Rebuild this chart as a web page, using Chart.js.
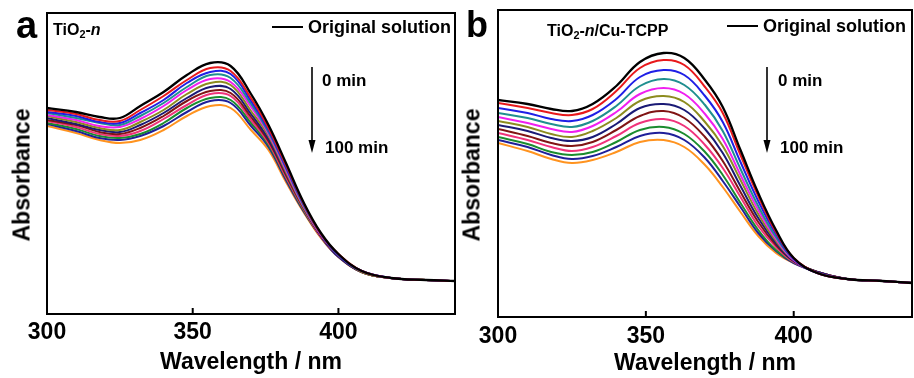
<!DOCTYPE html>
<html>
<head>
<meta charset="utf-8">
<script src="https://cdn.jsdelivr.net/npm/chart.js@4.4.1/dist/chart.umd.min.js"></script>
<style>
  body { margin: 0; background: #fff; }
  #wrap { position: relative; width: 914px; height: 378px; overflow: hidden; font-family: "Liberation Sans", Arial, sans-serif; }
  canvas { position: absolute; top: 0; }
  #chartA { left: 0; }
  #chartB { left: 457px; }
  .lbl { position: absolute; font-weight: bold; color: #000; white-space: nowrap; line-height: 1; }
  .lbl sub { font-size: 0.68em; vertical-align: -0.25em; line-height: 0; }
  .ytitle { position: absolute; font-weight: bold; font-size: 23px; line-height: 1; white-space: nowrap; transform: translate(-50%, -50%) rotate(-90deg); }
</style>
</head>
<body>
<div id="wrap">
  <canvas id="chartA" width="457" height="378"></canvas>
  <canvas id="chartB" width="457" height="378"></canvas>

  <div class="lbl" style="left:16px;top:6px;font-size:38px;">a</div>
  <div class="lbl" style="left:53px;top:22px;font-size:16px;">TiO<sub>2</sub>-<i>n</i></div>
  <div class="lbl" style="left:308px;top:18px;font-size:18px;">Original solution</div>
  <div class="lbl" style="left:322px;top:72px;font-size:17px;">0 min</div>
  <div class="lbl" style="left:325px;top:139px;font-size:17px;">100 min</div>
  <div class="ytitle" style="left:22px;top:175px;">Absorbance</div>

  <div class="lbl" style="left:466px;top:7px;font-size:36px;">b</div>
  <div class="lbl" style="left:547px;top:23px;font-size:16px;">TiO<sub>2</sub>-<i>n</i>/Cu-TCPP</div>
  <div class="lbl" style="left:763px;top:17px;font-size:18px;">Original solution</div>
  <div class="lbl" style="left:778px;top:72px;font-size:17px;">0 min</div>
  <div class="lbl" style="left:780px;top:139px;font-size:17px;">100 min</div>
  <div class="ytitle" style="left:472px;top:175px;">Absorbance</div>
</div>

<script>
// wavelength grid (nm) shared by every curve
const wavelengths = [300, 310, 318, 325, 332, 340, 348, 356, 363, 370, 376, 382, 388, 394, 400, 408, 418, 430, 440];
const xTicks = [300, 350, 400];

const curveLabels = ['Original solution', '0 min', '10 min', '20 min', '30 min', '40 min',
  '50 min', '60 min', '70 min', '80 min', '90 min', '100 min'];
const curveColors = ['#000000', '#e8191c', '#1f1fe6', '#1f8f8f', '#f01ff0', '#8c8c1f',
  '#1a1a75', '#801414', '#f0337a', '#1a8c2e', '#1f1f99', '#ff931f'];

// panel a: TiO2-n
const absA = [
  [2.06, 2.02, 1.97, 1.96, 2.08, 2.22, 2.39, 2.51, 2.48, 2.20, 1.89, 1.51, 1.12, 0.81, 0.60, 0.43, 0.36, 0.34, 0.33],
  [2.04, 2.00, 1.94, 1.93, 2.04, 2.18, 2.34, 2.46, 2.43, 2.16, 1.86, 1.49, 1.11, 0.80, 0.60, 0.43, 0.36, 0.34, 0.33],
  [2.02, 1.98, 1.92, 1.91, 2.01, 2.14, 2.31, 2.42, 2.40, 2.13, 1.84, 1.47, 1.10, 0.80, 0.59, 0.43, 0.36, 0.34, 0.33],
  [2.01, 1.96, 1.91, 1.89, 1.98, 2.11, 2.27, 2.39, 2.36, 2.10, 1.82, 1.46, 1.09, 0.80, 0.59, 0.43, 0.36, 0.34, 0.33],
  [1.99, 1.94, 1.88, 1.87, 1.95, 2.08, 2.24, 2.35, 2.32, 2.07, 1.80, 1.44, 1.08, 0.79, 0.59, 0.43, 0.36, 0.34, 0.33],
  [1.98, 1.92, 1.86, 1.84, 1.92, 2.04, 2.20, 2.31, 2.29, 2.03, 1.78, 1.42, 1.07, 0.79, 0.59, 0.42, 0.36, 0.34, 0.33],
  [1.96, 1.90, 1.84, 1.82, 1.89, 2.01, 2.16, 2.27, 2.25, 2.00, 1.75, 1.41, 1.07, 0.78, 0.58, 0.42, 0.36, 0.34, 0.33],
  [1.94, 1.89, 1.82, 1.80, 1.86, 1.98, 2.13, 2.23, 2.21, 1.97, 1.73, 1.39, 1.06, 0.78, 0.58, 0.42, 0.36, 0.34, 0.33],
  [1.93, 1.87, 1.80, 1.78, 1.83, 1.95, 2.09, 2.20, 2.18, 1.94, 1.71, 1.37, 1.05, 0.77, 0.58, 0.42, 0.36, 0.34, 0.33],
  [1.91, 1.85, 1.78, 1.76, 1.80, 1.91, 2.06, 2.16, 2.14, 1.91, 1.69, 1.36, 1.04, 0.77, 0.58, 0.42, 0.36, 0.34, 0.33],
  [1.90, 1.83, 1.76, 1.74, 1.78, 1.88, 2.02, 2.13, 2.11, 1.88, 1.67, 1.34, 1.03, 0.77, 0.57, 0.42, 0.36, 0.34, 0.33],
  [1.88, 1.81, 1.74, 1.71, 1.74, 1.84, 1.98, 2.08, 2.06, 1.84, 1.64, 1.32, 1.02, 0.76, 0.57, 0.42, 0.36, 0.34, 0.33],
];

// panel b: TiO2-n/Cu-TCPP
const absB = [
  [2.17, 2.13, 2.08, 2.06, 2.13, 2.31, 2.55, 2.64, 2.59, 2.37, 2.10, 1.67, 1.24, 0.87, 0.59, 0.44, 0.38, 0.36, 0.34],
  [2.14, 2.09, 2.04, 2.02, 2.08, 2.26, 2.49, 2.57, 2.52, 2.30, 2.04, 1.62, 1.21, 0.85, 0.59, 0.44, 0.38, 0.36, 0.34],
  [2.09, 2.04, 1.98, 1.96, 2.02, 2.18, 2.40, 2.47, 2.42, 2.21, 1.95, 1.55, 1.16, 0.83, 0.58, 0.44, 0.38, 0.36, 0.34],
  [2.04, 1.99, 1.93, 1.90, 1.96, 2.11, 2.31, 2.38, 2.32, 2.12, 1.86, 1.48, 1.11, 0.80, 0.58, 0.44, 0.38, 0.36, 0.34],
  [2.00, 1.94, 1.88, 1.85, 1.91, 2.05, 2.23, 2.29, 2.23, 2.03, 1.78, 1.42, 1.07, 0.78, 0.57, 0.44, 0.38, 0.36, 0.34],
  [1.96, 1.90, 1.83, 1.80, 1.86, 1.99, 2.16, 2.21, 2.15, 1.95, 1.71, 1.37, 1.03, 0.76, 0.57, 0.44, 0.38, 0.36, 0.34],
  [1.92, 1.86, 1.79, 1.76, 1.80, 1.93, 2.09, 2.13, 2.07, 1.88, 1.64, 1.31, 0.99, 0.74, 0.56, 0.45, 0.38, 0.36, 0.34],
  [1.88, 1.81, 1.74, 1.71, 1.75, 1.87, 2.01, 2.06, 1.99, 1.80, 1.56, 1.25, 0.95, 0.72, 0.56, 0.45, 0.38, 0.36, 0.34],
  [1.84, 1.77, 1.70, 1.66, 1.70, 1.81, 1.94, 1.98, 1.91, 1.72, 1.49, 1.20, 0.91, 0.70, 0.55, 0.45, 0.38, 0.36, 0.34],
  [1.80, 1.73, 1.65, 1.62, 1.65, 1.75, 1.87, 1.90, 1.83, 1.65, 1.42, 1.14, 0.87, 0.67, 0.55, 0.45, 0.38, 0.36, 0.34],
  [1.77, 1.70, 1.62, 1.58, 1.61, 1.70, 1.81, 1.84, 1.77, 1.59, 1.36, 1.10, 0.84, 0.66, 0.54, 0.45, 0.38, 0.36, 0.34],
  [1.74, 1.66, 1.58, 1.54, 1.57, 1.65, 1.75, 1.77, 1.70, 1.52, 1.30, 1.05, 0.81, 0.64, 0.54, 0.45, 0.38, 0.36, 0.34],
];

Chart.defaults.font.family = '"Liberation Sans", Arial, sans-serif';
Chart.defaults.color = '#000';

// frame, inward ticks, legend line sample and the time arrow
const framePlugin = {
  id: 'frame',
  afterDatasetsDraw(chart, args, opts) {
    const { ctx, chartArea: a, scales } = chart;
    ctx.save();
    ctx.strokeStyle = '#000';
    ctx.fillStyle = '#000';
    ctx.lineWidth = 2;
    ctx.strokeRect(a.left, a.top, a.right - a.left, a.bottom - a.top);
    xTicks.forEach((v) => {
      const px = scales.x.getPixelForValue(v);
      ctx.beginPath();
      ctx.moveTo(px, a.bottom);
      ctx.lineTo(px, a.bottom - 6);
      ctx.stroke();
    });
    ctx.beginPath();
    ctx.moveTo(opts.legend[0], opts.legend[2]);
    ctx.lineTo(opts.legend[1], opts.legend[2]);
    ctx.stroke();
    const [ax, ay1, ay2] = opts.arrow;
    ctx.lineWidth = 1.6;
    ctx.beginPath();
    ctx.moveTo(ax, ay1);
    ctx.lineTo(ax, ay2 - 10);
    ctx.stroke();
    ctx.beginPath();
    ctx.moveTo(ax - 3.5, ay2 - 13);
    ctx.lineTo(ax + 3.5, ay2 - 13);
    ctx.lineTo(ax, ay2);
    ctx.closePath();
    ctx.fill();
    ctx.restore();
  },
};

function makeChart(id, series, cfg) {
  const datasets = series.map((vals, i) => ({
    label: curveLabels[i],
    data: wavelengths.map((w, j) => ({ x: w, y: vals[j] })),
    borderColor: curveColors[i],
    borderWidth: i === 0 ? 2.3 : 2,
    pointRadius: 0,
    tension: 0.4,
    fill: false,
  }));
  return new Chart(document.getElementById(id), {
    type: 'line',
    data: { datasets },
    plugins: [framePlugin],
    options: {
      responsive: false,
      animation: false,
      events: [],
      layout: { padding: { left: cfg.left, right: 2, top: cfg.top, bottom: 0 } },
      plugins: {
        legend: { display: false },
        tooltip: { enabled: false },
        frame: { legend: cfg.legend, arrow: cfg.arrow },
      },
      scales: {
        x: {
          type: 'linear',
          min: 300,
          max: 440,
          afterBuildTicks: (s) => { s.ticks = xTicks.map((v) => ({ value: v })); },
          afterFit: (s) => { s.height = cfg.xHeight; },
          grid: { display: false, drawTicks: false },
          border: { display: false },
          ticks: { padding: cfg.tickPad, maxRotation: 0, font: { size: 23, weight: 'bold' }, color: '#000' },
          title: {
            display: true,
            text: 'Wavelength / nm',
            color: '#000',
            font: { size: 23, weight: 'bold' },
            padding: { top: 0, bottom: cfg.titlePad },
          },
        },
        y: { display: false, min: 0, max: cfg.yMax },
      },
    },
  });
}

makeChart('chartA', absA, {
  left: 47, top: 13, xHeight: 64, tickPad: 5, titlePad: 2, yMax: 3.01,
  legend: [272, 303, 27], arrow: [312, 67, 153],
});
makeChart('chartB', absB, {
  left: 41, top: 10, xHeight: 61, tickPad: 6, titlePad: 1, yMax: 3.07,
  legend: [270, 301, 26], arrow: [310, 67, 153],
});
</script>
</body>
</html>
